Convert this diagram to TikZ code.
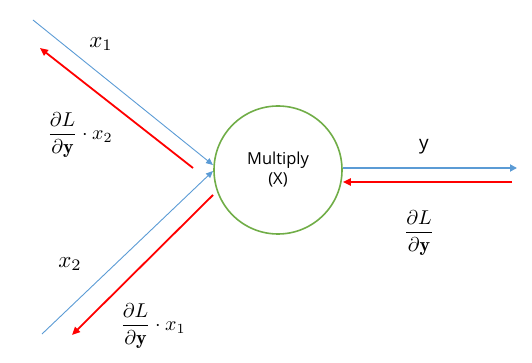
\documentclass[tikz,border=0pt]{standalone}
\usepackage{amsmath}
\usepackage{graphicx}
\usepackage{fontspec}
\setsansfont{Open Sans}
\usetikzlibrary{arrows.meta}
\definecolor{fwdblue}{RGB}{91,155,213}
\definecolor{bwdred}{RGB}{255,0,0}
\definecolor{gategreen}{RGB}{112,173,71}
\newcommand{\fracmath}[1]{\scalebox{2.0}{#1}}
\newcommand{\varmath}[1]{\scalebox{2.3}{#1}}
\begin{document}
\begin{tikzpicture}[x=1pt,y=-1pt,
  fwd/.style={draw=fwdblue,line width=0.9pt,-{Triangle[length=7pt,width=6pt]}},
  fwdthick/.style={draw=fwdblue,line width=1.8pt,-{Triangle[length=7pt,width=7pt]}},
  bwd/.style={draw=bwdred,line width=1.8pt,-{Triangle[length=8pt,width=7pt]}},
  lbl/.style={inner sep=0pt}]
\useasboundingbox (0,0) rectangle (532,363);
\node[circle,draw=gategreen,line width=1.6pt,minimum size=128pt,inner sep=0pt,
  font=\sffamily\fontsize{16.5}{20}\selectfont,align=center] (m) at (278,170) {Multiply\\(X)};
% free ends
\coordinate (x1s) at (33,20);
\coordinate (x1e) at (213,165);
\coordinate (x2s) at (42,334);
\coordinate (x2e) at (213,171);
\coordinate (g1s) at (193,168);
\coordinate (g1e) at (40,48);
\coordinate (g2s) at (213,195);
\coordinate (g2e) at (72,335);
\coordinate (ye) at (517,168);
\coordinate (gys) at (512,182);
% forward
\draw[fwd] (x1s) -- (x1e);
\draw[fwd] (x2s) -- (x2e);
\draw[fwdthick] (m.east |- ye) -- (ye);
% backward
\draw[bwd] (g1s) -- (g1e);
\draw[bwd] (g2s) -- (g2e);
\draw[bwd] (gys) -- (m.east |- gys);
% labels
\node[lbl] (lx1) at (101,44) {\varmath{$x_1$}};
\node[lbl] (lg1) at (80,135) {\fracmath{$\dfrac{\partial L}{\partial \mathbf{y}}\cdot x_2$}};
\node[lbl] (lx2) at (70,264) {\varmath{$x_2$}};
\node[lbl] (lg2) at (153,326) {\fracmath{$\dfrac{\partial L}{\partial \mathbf{y}}\cdot x_1$}};
\node[lbl,font=\sffamily\fontsize{19}{22}\selectfont] (ly) at (424,147) {y};
\node[lbl] (lgy) at (419,233) {\fracmath{$\dfrac{\partial L}{\partial \mathbf{y}}$}};
\end{tikzpicture}
\end{document}
